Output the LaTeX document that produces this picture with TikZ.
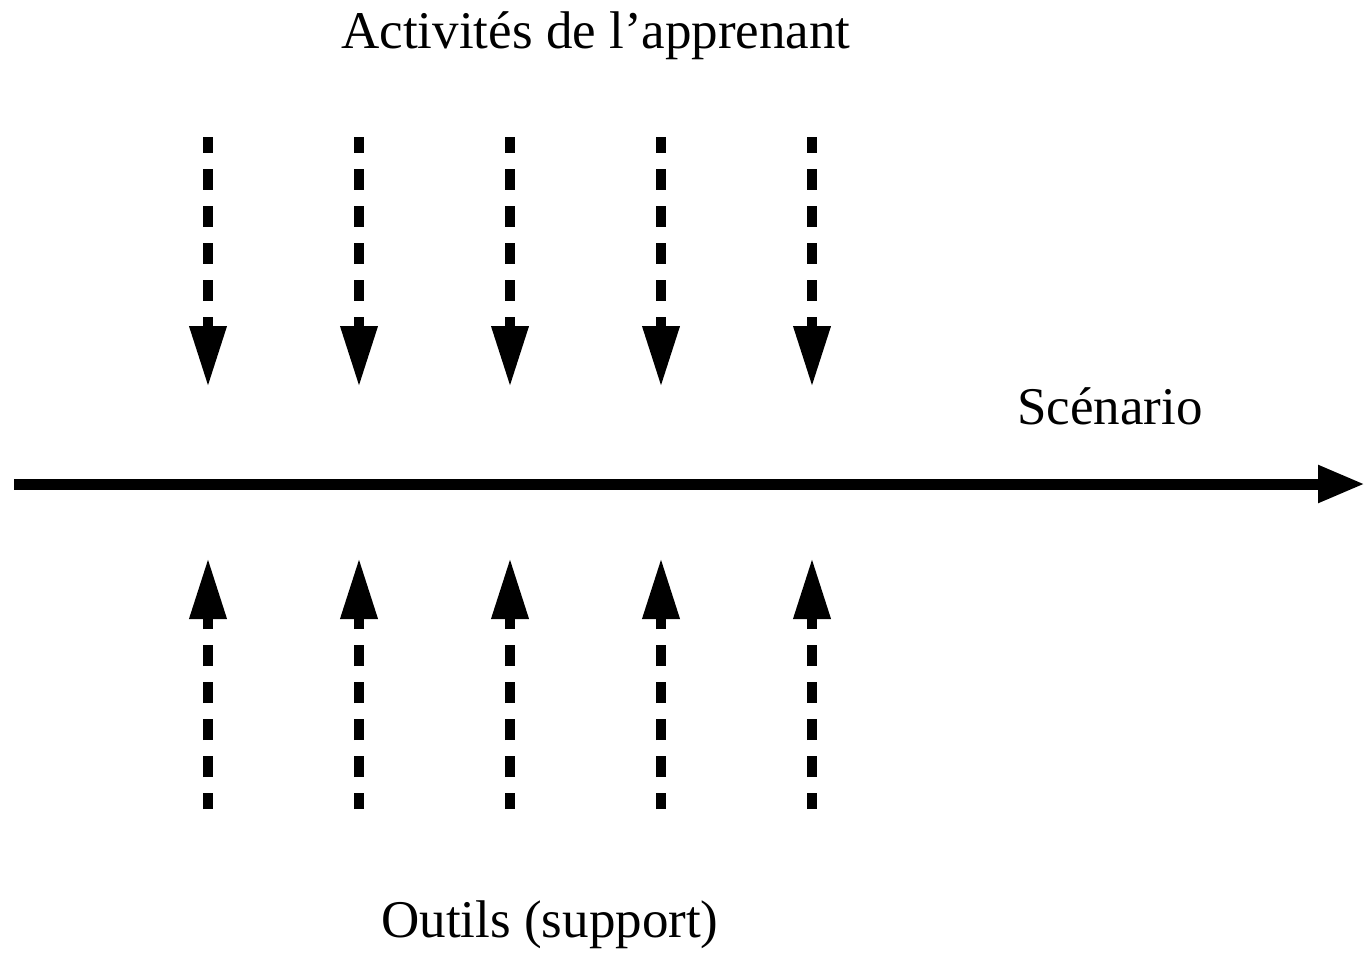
\documentclass[tikz,border=0pt]{standalone}
\usepackage{fontspec}
\setmainfont{Liberation Serif}
\usetikzlibrary{arrows.meta}

\begin{document}
\begin{tikzpicture}[x=0.5pt,y=-0.5pt,>={Triangle[length=30.5pt,width=17.5pt]},
  every node/.style={inner sep=0pt,anchor=base,font=\fontsize{26.5}{30}\selectfont},
  flow/.style={line width=5pt,dash pattern=on 10.5pt off 8pt,dash phase=2.5pt}]
\useasboundingbox (0,0) rectangle (1365,954);
\node (act) at (596,48) {Activités de l’apprenant};
\node (scen) at (1110,424) {Scénario};
\node (out) at (550,937) {Outils (support)};
\coordinate (s0) at (14,484);
\coordinate (s1) at (1365,484);
\draw[line width=5.5pt,-{Triangle[length=23.5pt,width=17.5pt]}] (s0) to (s1);
\coordinate (a1) at (208,137);
\coordinate (a2) at (359,137);
\coordinate (a3) at (510,137);
\coordinate (a4) at (661,137);
\coordinate (a5) at (812,137);
\coordinate (b1) at (208,387);
\coordinate (b2) at (359,387);
\coordinate (b3) at (510,387);
\coordinate (b4) at (661,387);
\coordinate (b5) at (812,387);
\coordinate (c1) at (208,809);
\coordinate (c2) at (359,809);
\coordinate (c3) at (510,809);
\coordinate (c4) at (661,809);
\coordinate (c5) at (812,809);
\coordinate (d1) at (208,558);
\coordinate (d2) at (359,558);
\coordinate (d3) at (510,558);
\coordinate (d4) at (661,558);
\coordinate (d5) at (812,558);
\draw[flow,->] (a1) to (b1);
\draw[flow,->] (a2) to (b2);
\draw[flow,->] (a3) to (b3);
\draw[flow,->] (a4) to (b4);
\draw[flow,->] (a5) to (b5);
\draw[flow,->] (c1) to (d1);
\draw[flow,->] (c2) to (d2);
\draw[flow,->] (c3) to (d3);
\draw[flow,->] (c4) to (d4);
\draw[flow,->] (c5) to (d5);
\end{tikzpicture}
\end{document}
